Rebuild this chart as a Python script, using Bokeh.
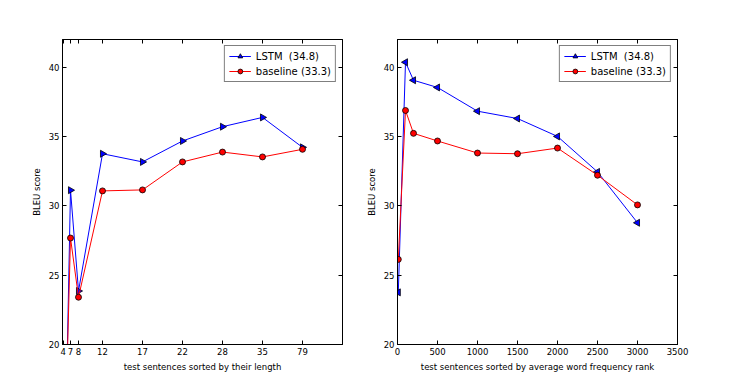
import math
from bokeh.plotting import figure
from bokeh.layouts import row
from bokeh.models import LinearAxis, FixedTicker, Legend, LegendItem, Range1d, ColumnDataSource
from bokeh.embed import file_html
from bokeh.resources import INLINE

# ---- data ----
# left: test sentences sorted by their length
len_x = [10, 100, 200, 500, 1000, 1500, 2000, 2500, 3000]
len_tick_labels = ["4", "7", "8", "12", "17", "22", "28", "35", "79"]
len_lstm = [5.0, 31.13, 23.86, 33.76, 33.17, 34.68, 35.71, 36.38, 34.22]
len_base = [8.0, 27.68, 23.41, 31.08, 31.15, 33.17, 33.88, 33.53, 34.08]

# right: test sentences sorted by average word frequency rank
freq_x = [10, 100, 200, 500, 1000, 1500, 2000, 2500, 3000]
freq_lstm = [23.76, 40.36, 39.06, 38.54, 36.83, 36.30, 35.01, 32.45, 28.78]
freq_base = [26.14, 36.88, 35.23, 34.68, 33.81, 33.76, 34.17, 32.21, 30.07]

lstm_label = "LSTM  (34.8)"
base_label = "baseline (33.3)"
y_ticks = [20, 25, 30, 35, 40]
freq_ticks = [0, 500, 1000, 1500, 2000, 2500, 3000, 3500]

FONT = "DejaVu Sans"


def style_axis(ax, show_labels=True):
    ax.major_tick_in = 4
    ax.major_tick_out = 0
    ax.minor_tick_line_color = None
    ax.axis_line_color = "black"
    ax.major_tick_line_color = "black"
    ax.major_label_text_font = FONT
    ax.major_label_text_font_size = "8.5px"
    ax.major_label_text_color = "black"
    ax.major_label_standoff = 3
    ax.axis_label_text_font = FONT
    ax.axis_label_text_font_size = "8.5px"
    ax.axis_label_text_font_style = "normal"
    ax.axis_label_text_color = "black"
    ax.axis_label_standoff = 4
    if not show_labels:
        ax.major_label_text_alpha = 0
        ax.major_label_text_font_size = "0px"


def make_fig(xs, lstm, base, xticks, xlabels, xlabel, tri_angle, bl, br, width):
    p = figure(width=width, height=384, output_backend="svg", toolbar_location=None,
               x_range=Range1d(0, 3500), y_range=Range1d(20, 42),
               min_border_left=bl, min_border_right=br, min_border_top=39,
               min_border_bottom=40)
    p.xgrid.grid_line_color = None
    p.ygrid.grid_line_color = None
    p.outline_line_color = "black"
    p.outline_line_alpha = 1
    p.background_fill_color = "white"
    p.border_fill_color = "white"

    p.xaxis.ticker = FixedTicker(ticks=xticks)
    if xlabels is not None:
        p.xaxis.major_label_overrides = {t: l for t, l in zip(xticks, xlabels)}
    p.xaxis.axis_label = xlabel
    p.yaxis.ticker = FixedTicker(ticks=y_ticks)
    p.yaxis.axis_label = "BLEU score"
    style_axis(p.xaxis[0])
    style_axis(p.yaxis[0])

    top = LinearAxis(ticker=FixedTicker(ticks=xticks))
    style_axis(top, show_labels=False)
    p.add_layout(top, "above")
    right = LinearAxis(ticker=FixedTicker(ticks=y_ticks))
    style_axis(right, show_labels=False)
    p.add_layout(right, "right")

    src_l = ColumnDataSource(dict(x=xs, y=lstm, a=[tri_angle] * len(xs)))
    src_b = ColumnDataSource(dict(x=xs, y=base))

    l1 = p.line("x", "y", source=src_l, line_color="blue", line_width=1)
    m1 = p.scatter("x", "y", source=src_l, marker="triangle", angle="a", size=7,
                   fill_color="blue", line_color="black", line_width=0.8)
    l2 = p.line("x", "y", source=src_b, line_color="red", line_width=1)
    m2 = p.scatter("x", "y", source=src_b, marker="circle", size=6,
                   fill_color="red", line_color="black", line_width=0.8)

    legend = Legend(items=[LegendItem(label=lstm_label, renderers=[l1, m1], index=1),
                           LegendItem(label=base_label, renderers=[l2, m2], index=1)],
                    location="top_right")
    legend.label_text_font = FONT
    legend.label_text_font_size = "10px"
    legend.label_text_color = "black"
    legend.label_height = 12
    legend.glyph_height = 12
    legend.glyph_width = 22
    legend.spacing = 3
    legend.padding = 4
    legend.margin = 6
    legend.border_line_color = "black"
    legend.border_line_width = 1
    legend.background_fill_alpha = 1
    p.add_layout(legend, "center")
    return p


p1 = make_fig(len_x, len_lstm, len_base, len_x, len_tick_labels,
              "test sentences sorted by their length", -math.pi / 2, 62, 10, 352)
p2 = make_fig(freq_x, freq_lstm, freq_base, freq_ticks, None,
              "test sentences sorted by average word frequency rank", math.pi / 2, 45, 20, 345)

layout = row(p1, p2)
open("out.html", "w").write(file_html(layout, INLINE))
